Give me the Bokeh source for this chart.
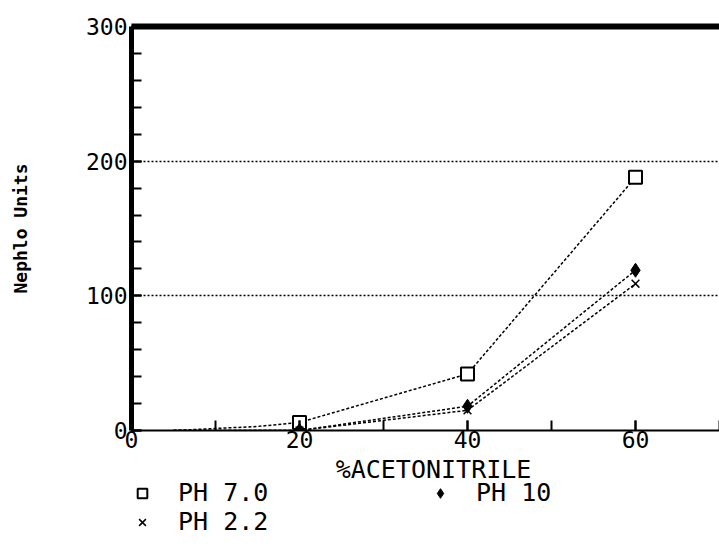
from bokeh.plotting import figure
from bokeh.layouts import column
from bokeh.models import (Range1d, LinearAxis, FixedTicker, ColumnDataSource, CDSView,
                          IndexFilter, Legend, LegendItem, Label)
from bokeh.embed import file_html
from bokeh.resources import INLINE

# ---- data ----
acetonitrile = [5, 15, 20, 40, 60]
ph_7_0 = [0, 3, 6, 42, 188]
ph_10 = [0, 0, 0, 18, 119]
ph_2_2 = [0, 0, 0, 15, 109]
marker_idx = [2, 3, 4]
y_ticks = [0, 100, 200, 300]
x_ticks = [0, 20, 40, 60]
series_labels = ["PH 7.0", "PH 10", "PH 2.2"]
x_title = "%ACETONITRILE"
y_title = "Nephlo Units"

FONT = "DejaVu Sans Mono"

p = figure(width=719, height=456, output_backend="svg", toolbar_location=None,
           x_range=Range1d(0, 70), y_range=Range1d(0, 300),
           min_border_left=131, min_border_right=0, min_border_top=26, min_border_bottom=26)
p.outline_line_color = None
p.background_fill_color = "white"
p.border_fill_color = "white"

# axes
p.yaxis.ticker = FixedTicker(ticks=y_ticks, minor_ticks=list(range(0, 301, 20)))
p.xaxis.ticker = FixedTicker(ticks=x_ticks, minor_ticks=list(range(0, 71, 10)))
for ax in (p.xaxis[0], p.yaxis[0]):
    ax.major_tick_in = 10
    ax.major_tick_out = 0
    ax.minor_tick_in = 10
    ax.minor_tick_out = 0
    ax.major_tick_line_color = "black"
    ax.minor_tick_line_color = "black"
    ax.major_tick_line_width = 2
    ax.minor_tick_line_width = 2
    ax.major_label_text_font = FONT
    ax.major_label_text_font_size = "23px"
    ax.major_label_text_color = "black"
    ax.axis_line_color = "black"
p.yaxis.major_label_standoff = 4
p.xaxis.major_label_standoff = 0
p.yaxis.axis_line_width = 5
p.xaxis.axis_line_width = 2

p.yaxis.axis_label = y_title
p.yaxis.axis_label_text_font = FONT
p.yaxis.axis_label_text_font_size = "18px"
p.yaxis.axis_label_text_font_style = "bold"
p.yaxis.axis_label_text_color = "black"
p.yaxis.axis_label_standoff = 52

# top border as a thick axis line
top = LinearAxis(ticker=FixedTicker(ticks=[]), major_label_text_font_size="0px",
                 axis_line_width=6, axis_line_color="black",
                 major_tick_in=0, major_tick_out=0, minor_tick_in=0, minor_tick_out=0)
p.add_layout(top, "above")

# grids
p.xgrid.grid_line_color = None
p.ygrid.ticker = FixedTicker(ticks=[100, 200])
p.ygrid.grid_line_color = "black"
p.ygrid.grid_line_dash = "2 2"
p.ygrid.grid_line_width = 1.5

src = ColumnDataSource(dict(x=acetonitrile, a=ph_7_0, b=ph_10, c=ph_2_2))
view = CDSView(filter=IndexFilter(marker_idx))

styles = [dict(marker="square", size=13, fill_color="white", line_color="black", line_width=2),
          dict(marker="diamond", size=14, fill_color="black", line_color="black", line_width=1),
          dict(marker="x", size=11, line_color="black", line_width=1.5)]

for col in ("a", "b", "c"):
    p.line("x", col, source=src, line_color="black", line_width=1.5, line_dash="3 2")
for col, st in zip(("a", "b", "c"), styles):
    p.scatter("x", col, source=src, view=view, **st)

# ---- bottom strip: x title + legend ----
q = figure(width=719, height=101, output_backend="svg", toolbar_location=None,
           x_range=Range1d(-300, -200), y_range=Range1d(-300, -200),
           x_axis_type=None, y_axis_type=None,
           min_border_left=0, min_border_right=0, min_border_top=0, min_border_bottom=0)
q.outline_line_color = None
q.background_fill_color = "white"
q.border_fill_color = "white"

q.add_layout(Label(x=302, y=88, x_units="screen", y_units="screen", text=x_title,
                   text_font=FONT, text_font_size="25px", text_color="black",
                   text_align="center", text_baseline="middle"))

rs = [q.scatter("x", col, source=src, view=view, **st)
      for col, st in zip(("a", "b", "c"), styles)]

legend = Legend(items=[LegendItem(label=series_labels[0], renderers=[rs[0]]),
                       LegendItem(label=series_labels[1], renderers=[rs[1]]),
                       LegendItem(label=series_labels[2], renderers=[rs[2]])],
                location=(-1, 21), orientation="horizontal", ncols=2,
                label_text_font=FONT, label_text_font_size="25px", label_text_color="black",
                label_standoff=24, glyph_width=24, glyph_height=26,
                label_height=26, label_width=250,
                spacing=0, padding=0, margin=0,
                border_line_alpha=0, background_fill_alpha=0)
q.add_layout(legend, "center")

open("out.html", "w").write(file_html(column(p, q, spacing=0), INLINE))
